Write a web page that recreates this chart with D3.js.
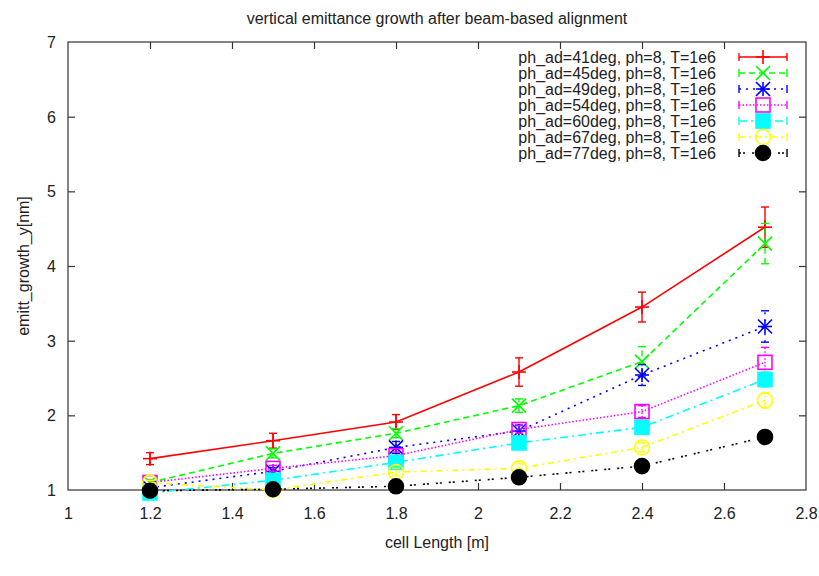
<!DOCTYPE html>
<html>
<head>
<meta charset="utf-8">
<script src="https://cdn.jsdelivr.net/npm/d3@7/dist/d3.min.js"></script>
<style>
  html, body { margin: 0; padding: 0; background: #fff; }
  svg { display: block; font-family: "Liberation Sans", Arial, sans-serif; }
</style>
</head>
<body>
<svg id="chart" width="819" height="576"></svg>
<script>
// cell lengths [m]
const cellLength = [1.2, 1.5, 1.8, 2.1, 2.4, 2.7];

// series labels
const seriesNames = [
  "ph_ad=41deg, ph=8, T=1e6",
  "ph_ad=45deg, ph=8, T=1e6",
  "ph_ad=49deg, ph=8, T=1e6",
  "ph_ad=54deg, ph=8, T=1e6",
  "ph_ad=60deg, ph=8, T=1e6",
  "ph_ad=67deg, ph=8, T=1e6",
  "ph_ad=77deg, ph=8, T=1e6"
];

// vertical emittance growth [nm] per series
const growth41 = [1.42, 1.66, 1.91, 2.58, 3.45, 4.52];
const growth45 = [1.10, 1.49, 1.76, 2.13, 2.72, 4.30];
const growth49 = [1.03, 1.25, 1.57, 1.79, 2.54, 3.19];
const growth54 = [1.10, 1.29, 1.46, 1.81, 2.05, 2.71];
const growth60 = [0.96, 1.13, 1.37, 1.63, 1.84, 2.48];
const growth67 = [1.10, 1.00, 1.24, 1.29, 1.57, 2.20];
const growth77 = [0.99, 1.01, 1.05, 1.17, 1.32, 1.71];

// error bar half-widths [nm]
const err41 = [0.08, 0.10, 0.10, 0.19, 0.20, 0.27];
const err45 = [0.04, 0.06, 0.06, 0.09, 0.20, 0.27];
const err49 = [0.03, 0.05, 0.08, 0.08, 0.14, 0.21];
const err54 = [0.03, 0.04, 0.05, 0.05, 0.08, 0.20];
const err60 = [0.03, 0.03, 0.04, 0.06, 0.06, 0.10];
const err67 = [0.03, 0.03, 0.05, 0.06, 0.06, 0.10];
const err77 = [0.03, 0.03, 0.03, 0.04, 0.04, 0.07];

// axis ticks
const xTicks = [1, 1.2, 1.4, 1.6, 1.8, 2, 2.2, 2.4, 2.6, 2.8];
const yTicks = [1, 2, 3, 4, 5, 6, 7];

const titleText = "vertical emittance growth after beam-based alignment";
const xLabel = "cell Length [m]";
const yLabel = "emitt_growth_y[nm]";

// drawing styles per series
const styles = [
  { color: "#ff0000", dash: null,          marker: "plus" },
  { color: "#00ff00", dash: "6,4",         marker: "cross" },
  { color: "#0000ff", dash: "2,5",         marker: "star" },
  { color: "#ff00ff", dash: "1.5,2",       marker: "square" },
  { color: "#00ffff", dash: "8,4,2,4",     marker: "squareFilled" },
  { color: "#ffff00", dash: "6,4,2,4",     marker: "circle" },
  { color: "#000000", dash: "2,2,2,7",     marker: "circleFilled" }
];

const values = [growth41, growth45, growth49, growth54, growth60, growth67, growth77];
const errors = [err41, err45, err49, err54, err60, err67, err77];

const svg = d3.select("#chart");
const margin = { left: 68, right: 13, top: 42, bottom: 86 };
const W = 819, H = 576;

const x = d3.scaleLinear().domain([1, 2.8]).range([margin.left, W - margin.right]);
const y = d3.scaleLinear().domain([1, 7]).range([H - margin.bottom, margin.top]);

const tickLen = 7;
const axisColor = "#333";
const fontSize = 16;

// frame
svg.append("rect")
  .attr("x", x(1)).attr("y", y(7))
  .attr("width", x(2.8) - x(1)).attr("height", y(1) - y(7))
  .attr("fill", "none").attr("stroke", axisColor).attr("stroke-width", 1.2);

// bottom / top ticks (inward, mirrored)
const bottomAxis = d3.axisBottom(x).tickValues(xTicks).tickSize(-tickLen).tickPadding(18)
  .tickFormat(d3.format("~g"));
const gx = svg.append("g").attr("transform", `translate(0,${y(1)})`).call(bottomAxis);
const topAxis = d3.axisTop(x).tickValues(xTicks).tickSize(-tickLen).tickFormat("");
const gxt = svg.append("g").attr("transform", `translate(0,${y(7)})`).call(topAxis);

const leftAxis = d3.axisLeft(y).tickValues(yTicks).tickSize(-tickLen).tickPadding(12)
  .tickFormat(d3.format("d"));
const gy = svg.append("g").attr("transform", `translate(${x(1)},0)`).call(leftAxis);
const rightAxis = d3.axisRight(y).tickValues(yTicks).tickSize(-tickLen).tickFormat("");
const gyr = svg.append("g").attr("transform", `translate(${x(2.8)},0)`).call(rightAxis);

[gx, gxt, gy, gyr].forEach(g => {
  g.select(".domain").remove();
  g.selectAll(".tick line").attr("stroke", axisColor).attr("stroke-width", 1.2);
  g.selectAll(".tick text").attr("fill", "#222").style("font-size", fontSize + "px")
    .style("font-family", "'Liberation Sans', Arial, sans-serif");
});
// skip tick marks that sit on the frame corners
gx.selectAll(".tick").filter(d => d === 1 || d === 2.8).select("line").remove();
gxt.selectAll(".tick").filter(d => d === 1 || d === 2.8).select("line").remove();
gy.selectAll(".tick").filter(d => d === 1 || d === 7).select("line").remove();
gyr.selectAll(".tick").filter(d => d === 1 || d === 7).select("line").remove();
gy.selectAll(".tick text").attr("dy", "0.35em");

// titles
svg.append("text").attr("x", 437).attr("y", 24).attr("text-anchor", "middle")
  .style("font-size", fontSize + "px").attr("fill", "#222").text(titleText);
svg.append("text").attr("x", 437).attr("y", 548).attr("text-anchor", "middle")
  .style("font-size", fontSize + "px").attr("fill", "#222").text(xLabel);
svg.append("text").attr("transform", `translate(29,${(y(1) + y(7)) / 2}) rotate(-90)`)
  .attr("text-anchor", "middle")
  .style("font-size", fontSize + "px").attr("fill", "#222").text(yLabel);

// marker drawing
const ms = 7;
function drawMarker(g, type, cx, cy, color) {
  const sw = 1.6;
  if (type === "plus" || type === "star") {
    g.append("line").attr("x1", cx - ms).attr("x2", cx + ms).attr("y1", cy).attr("y2", cy)
      .attr("stroke", color).attr("stroke-width", sw);
    g.append("line").attr("x1", cx).attr("x2", cx).attr("y1", cy - ms).attr("y2", cy + ms)
      .attr("stroke", color).attr("stroke-width", sw);
  }
  if (type === "cross" || type === "star") {
    g.append("line").attr("x1", cx - ms).attr("x2", cx + ms).attr("y1", cy - ms).attr("y2", cy + ms)
      .attr("stroke", color).attr("stroke-width", sw);
    g.append("line").attr("x1", cx - ms).attr("x2", cx + ms).attr("y1", cy + ms).attr("y2", cy - ms)
      .attr("stroke", color).attr("stroke-width", sw);
  }
  if (type === "square" || type === "squareFilled") {
    g.append("rect").attr("x", cx - ms).attr("y", cy - ms).attr("width", 2 * ms).attr("height", 2 * ms)
      .attr("fill", type === "squareFilled" ? color : "none")
      .attr("stroke", color).attr("stroke-width", sw);
  }
  if (type === "circle" || type === "circleFilled") {
    g.append("circle").attr("cx", cx).attr("cy", cy).attr("r", ms + 0.5)
      .attr("fill", type === "circleFilled" ? color : "none")
      .attr("stroke", color).attr("stroke-width", sw);
  }
}

const line = d3.line().x(d => x(d[0])).y(d => y(d[1]));
const capW = 4;

values.forEach((vals, i) => {
  const st = styles[i];
  const g = svg.append("g");
  const pts = cellLength.map((c, k) => [c, vals[k]]);
  g.append("path").datum(pts).attr("d", line)
    .attr("fill", "none").attr("stroke", st.color).attr("stroke-width", 1.6)
    .attr("stroke-dasharray", st.dash);
  // error bars
  pts.forEach((p, k) => {
    const e = errors[i][k];
    const px = x(p[0]);
    const y0 = y(p[1] - e), y1 = y(p[1] + e);
    g.append("line").attr("x1", px).attr("x2", px).attr("y1", y0).attr("y2", y1)
      .attr("stroke", st.color).attr("stroke-width", 1.4).attr("stroke-dasharray", st.dash);
    [y0, y1].forEach(yy => g.append("line")
      .attr("x1", px - capW).attr("x2", px + capW).attr("y1", yy).attr("y2", yy)
      .attr("stroke", st.color).attr("stroke-width", 1.4));
  });
  pts.forEach(p => drawMarker(g, st.marker, x(p[0]), y(p[1]), st.color));
});

// key
const keyTextX = 716, keyY0 = 57, keyDy = 16;
const sampleX0 = 739, sampleX1 = 787;
seriesNames.forEach((name, i) => {
  const st = styles[i];
  const yy = keyY0 + i * keyDy;
  svg.append("text").attr("x", keyTextX).attr("y", yy).attr("dy", "0.35em")
    .attr("text-anchor", "end").style("font-size", fontSize + "px").attr("fill", "#222")
    .text(name);
  const g = svg.append("g");
  g.append("line").attr("x1", sampleX0).attr("x2", sampleX1).attr("y1", yy).attr("y2", yy)
    .attr("stroke", st.color).attr("stroke-width", 1.6).attr("stroke-dasharray", st.dash);
  [sampleX0, sampleX1].forEach(xx => g.append("line")
    .attr("x1", xx).attr("x2", xx).attr("y1", yy - capW).attr("y2", yy + capW)
    .attr("stroke", st.color).attr("stroke-width", 1.4));
  drawMarker(g, st.marker, (sampleX0 + sampleX1) / 2, yy, st.color);
});
</script>
</body>
</html>
